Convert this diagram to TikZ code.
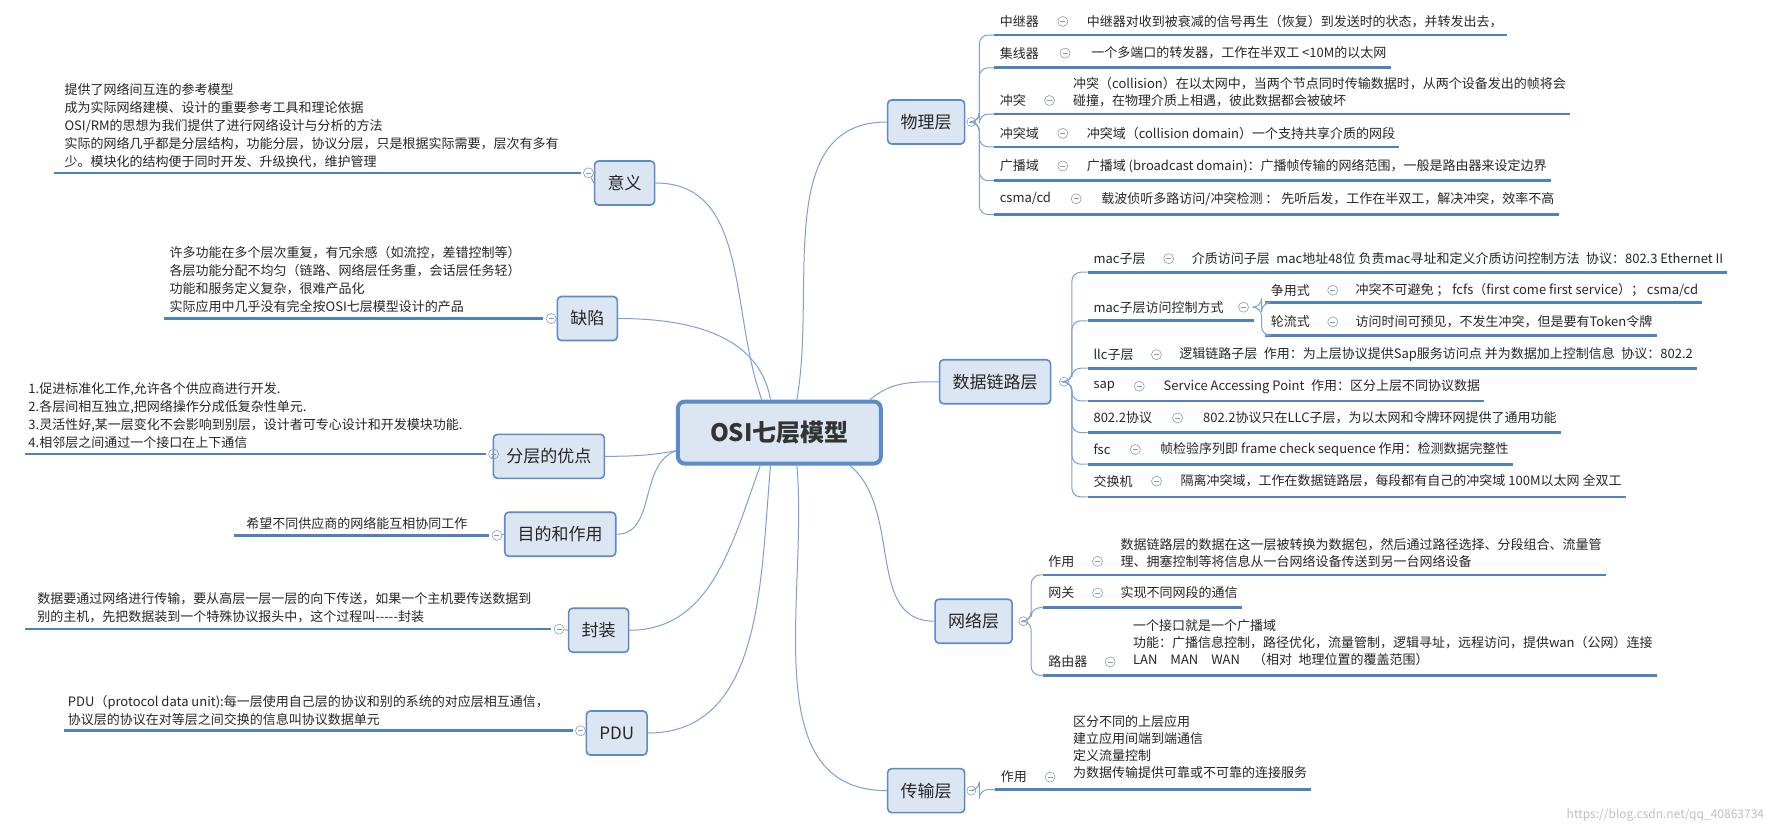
\documentclass[tikz,border=0pt]{standalone}
\usepackage{fontspec}
\setmainfont{Noto Sans CJK SC}
\usetikzlibrary{calc}
\definecolor{topicfill}{HTML}{DCE6F2}
\definecolor{topicline}{HTML}{5B8BC9}
\definecolor{linkc}{HTML}{7F9FD3}
\definecolor{ulinec}{HTML}{4F81BD}
\definecolor{minusc}{HTML}{8A9BB5}
\tikzset{
  root/.style={draw=topicline, line width=4pt, rounded corners=7pt, fill=topicfill,
    minimum width=203pt, minimum height=62pt, font=\fontsize{24}{28}\selectfont\bfseries, text=black!80},
  topic/.style={draw=topicline, line width=1.6pt, rounded corners=4pt, fill=topicfill,
    minimum height=44pt, inner xsep=13pt, font=\fontsize{17}{20}\selectfont, text=black!85},
  lab/.style={anchor=west, inner sep=0pt, font=\fontsize{13}{17}\selectfont, text=black!85},
  desc/.style={anchor=west, inner sep=0pt, align=left, font=\fontsize{13}{17}\selectfont, text=black!85},
  note/.style={anchor=south west, inner sep=0pt, align=left, font=\fontsize{13}{18}\selectfont, text=black!85},
  minus/.style={circle, draw=minusc, line width=0.6pt, minimum size=10pt, inner sep=0pt,
    path picture={\draw[minusc, line width=0.6pt] ([xshift=-2.5pt]path picture bounding box.center) -- ([xshift=2.5pt]path picture bounding box.center);}},
  link/.style={draw=linkc, line width=1pt},
  uline/.style={draw=ulinec, line width=2.6pt}
}
% one child row: name, label x, label y, label, desc x, desc y, desc, line y, origin
\newcommand{\row}[9]{%
  \node[lab] (#1) at (#2,#3) {#4};
  \node[desc] (#1d) at (#5,#6) {#7};
  \coordinate (#1m) at ($(#1.east)!0.5!(#1d.west)$);
  \node[minus] at (#1m |- #1.east) {};
  \draw[uline] ({#2-5},#8) -- ([xshift=4pt]#1d.east |- 0,#8);
  \draw[link, rounded corners=9pt] (#9) -- ++(7,0) |- ({#2-5},#8);
}

\begin{document}
\begin{tikzpicture}[x=1.1295pt, y=-1.1295pt]
  \useasboundingbox (0,0) rectangle (1568,738);

  % centre and main topics
  \node[root] (osi) at (690,383) {OSI七层模型};
  \node[topic] (phy) at (820,108) {物理层};
  \node[topic] (dll) at (881,338) {数据链路层};
  \node[topic] (net) at (862,550) {网络层};
  \node[topic] (trn) at (820,700) {传输层};
  \node[topic] (yiyi) at (553,162) {意义};
  \node[topic] (quex) at (520,282) {缺陷};
  \node[topic] (youd) at (486,404) {分层的优点};
  \node[topic] (mudi) at (496,473) {目的和作用};
  \node[topic] (fenz) at (530,558) {封装};
  \node[topic] (pdu) at (546,649) {PDU};

  \draw[link] (osi.62) to[out=80,in=180] (phy.west);
  \draw[link] (osi.20) to[out=40,in=180] (dll.west);
  \draw[link] (osi.-25) to[out=-40,in=180] (net.west);
  \draw[link] (osi.-62) to[out=-85,in=180] (trn.west);
  \draw[link] (osi.118) to[out=110,in=0] (yiyi.east);
  \draw[link] (osi.105) to[out=100,in=0] (quex.east);
  \draw[link] (osi.190) to[out=190,in=0] (youd.east);
  \draw[link] (osi.-170) to[out=200,in=0] (mudi.east);
  \draw[link] (osi.-120) to[out=250,in=0] (fenz.east);
  \draw[link] (osi.-105) to[out=265,in=0] (pdu.east);

  % physical layer
  \coordinate (phyo) at (860,108);
  \node[minus, minimum size=9pt, fill=white] at (phyo) {};
  \row{zj}{885}{19}{中继器}{962}{19}{中继器对收到被衰减的信号再生（恢复）到发送时的状态，并转发出去，}{31}{phyo}
  \row{jx}{885}{47}{集线器}{966}{47}{一个多端口的转发器，工作在半双工 <10M的以太网}{60}{phyo}
  \row{ct}{885}{89}{冲突}{950}{82}{冲突（collision）在以太网中，当两个节点同时传输数据时，从两个设备发出的帧将会\\碰撞，在物理介质上相遇，彼此数据都会被破坏}{101}{phyo}
  \row{cty}{885}{118}{冲突域}{962}{118}{冲突域（collision domain）一个支持共享介质的网段}{130}{phyo}
  \row{gb}{885}{147}{广播域}{962}{147}{广播域 (broadcast domain)：广播帧传输的网络范围，一般是路由器来设定边界}{160}{phyo}
  \row{cs}{885}{176}{csma/cd}{975}{176}{载波侦听多路访问/冲突检测 ： 先听后发，工作在半双工，解决冲突，效率不高}{190}{phyo}

  % data link layer
  \coordinate (dllo) at (942,338);
  \node[minus, minimum size=9pt, fill=white] at (dllo) {};
  \row{mac}{968}{229}{mac子层}{1055}{229}{介质访问子层\enspace mac地址48位 负责mac寻址和定义介质访问控制方法\enspace 协议：802.3 Ethernet II}{241}{dllo}
  \node[lab] (macf) at (968,272) {mac子层访问控制方式};
  \node[minus] at (1101,272) {};
  \draw[uline] (963,284) -- (1110,284);
  \draw[link, rounded corners=9pt] (dllo) -- ++(7,0) |- (963,284);
  \coordinate (maco) at (1110,272);
  \row{zy}{1125}{257}{争用式}{1200}{257}{冲突不可避免 ； fcfs（first come first service）；  csma/cd}{268}{maco}
  \row{ll}{1125}{285}{轮流式}{1200}{285}{访问时间可预见，不发生冲突，但是要有Token令牌}{297}{maco}
  \row{llc}{968}{314}{llc子层}{1044}{314}{逻辑链路子层\enspace 作用：为上层协议提供Sap服务访问点 并为数据加上控制信息\enspace 协议：802.2}{326}{dllo}
  \row{sap}{968}{342}{sap}{1030}{342}{Service Accessing Point\enspace 作用：区分上层不同协议数据}{355}{dllo}
  \row{xy}{968}{370}{802.2协议}{1065}{370}{802.2协议只在LLC子层，为以太网和令牌环网提供了通用功能}{383}{dllo}
  \row{fsc}{968}{398}{fsc}{1027}{398}{帧检验序列即 frame check sequence 作用：检测数据完整性}{411}{dllo}
  \row{jh}{968}{426}{交换机}{1045}{426}{隔离冲突域，工作在数据链路层，每段都有自己的冲突域 100M以太网 全双工}{440}{dllo}

  % network layer
  \coordinate (neto) at (906,550);
  \node[minus, minimum size=9pt, fill=white] at (neto) {};
  \row{nzy}{928}{497}{作用}{992}{490}{数据链路层的数据在这一层被转换为数据包，然后通过路径选择、分段组合、流量管\\理、拥塞控制等将信息从一台网络设备传送到另一台网络设备}{509}{neto}
  \row{wg}{928}{525}{网关}{992}{525}{实现不同网段的通信}{538}{neto}
  \row{lyq}{928}{586}{路由器}{1003}{569}{一个接口就是一个广播域\\功能：广播信息控制，路径优化，流量管制，逻辑寻址，远程访问，提供wan（公网）连接\\LAN\quad MAN\quad WAN\quad （相对\; 地理位置的覆盖范围）}{598}{neto}

  % transport layer
  \coordinate (trno) at (860,700);
  \node[minus, minimum size=9pt, fill=white] at (trno) {};
  \row{tzy}{886}{688}{作用}{950}{661}{区分不同的上层应用\\建立应用间端到端通信\\定义流量控制\\为数据传输提供可靠或不可靠的连接服务}{699}{trno}

  % left topics
  \node[note] (yiyit) at (57,149) {提供了网络间互连的参考模型\\成为实际网络建模、设计的重要参考工具和理论依据\\OSI/RM的思想为我们提供了进行网络设计与分析的方法\\实际的网络几乎都是分层结构，功能分层，协议分层，只是根据实际需要，层次有多有\\少。模块化的结构便于同时开发、升级换代，维护管理};
  \draw[uline] (48,153) -- (514,153);
  \node[minus] (yiyim) at (521,153) {};
  \draw[link] (yiyim) -- (yiyi.west);

  \node[note] (quext) at (150,277) {许多功能在多个层次重复，有冗余感（如流控，差错控制等）\\各层功能分配不均匀（链路、网络层任务重，会话层任务轻）\\功能和服务定义复杂，很难产品化\\实际应用中几乎没有完全按OSI七层模型设计的产品};
  \draw[uline] (145,282) -- (481,282);
  \node[minus] (quexm) at (488,282) {};
  \draw[link] (quexm) -- (quex.west);

  \node[note] (youdt) at (25,397) {1.促进标准化工作,允许各个供应商进行开发.\\2.各层间相互独立,把网络操作分成低复杂性单元.\\3.灵活性好,某一层变化不会影响到别层，设计者可专心设计和开发模块功能.\\4.相邻层之间通过一个接口在上下通信};
  \draw[uline] (22,402) -- (430,402);
  \node[minus] (youdm) at (437,402) {};
  \draw[link] (youdm) -- (youd.west);

  \node[note] (mudit) at (218,469) {希望不同供应商的网络能互相协同工作};
  \draw[uline] (207,474) -- (433,474);
  \node[minus] (mudim) at (440,474) {};
  \draw[link] (mudim) -- (mudi.west);

  \node[note] (fenzt) at (33,552) {数据要通过网络进行传输，要从高层一层一层的向下传送，如果一个主机要传送数据到\\别的主机，先把数据装到一个特殊协议报头中，这个过程叫{-}{-}{-}{-}{-}封装};
  \draw[uline] (22,557) -- (488,557);
  \node[minus] (fenzm) at (495,557) {};
  \draw[link] (fenzm) -- (fenz.west);

  \node[note] (pdut) at (60,643) {PDU（protocol data unit):每一层使用自己层的协议和别的系统的对应层相互通信，\\协议层的协议在对等层之间交换的信息叫协议数据单元};
  \draw[uline] (57,647) -- (507,647);
  \node[minus] (pdum) at (514,647) {};
  \draw[link] (pdum) -- (pdu.west);

  \node[anchor=east, text=black!25, font=\fontsize{12}{14}\selectfont] (wm) at (1565,722) {https://blog.csdn.net/qq\_40863734};
\end{tikzpicture}
\end{document}
